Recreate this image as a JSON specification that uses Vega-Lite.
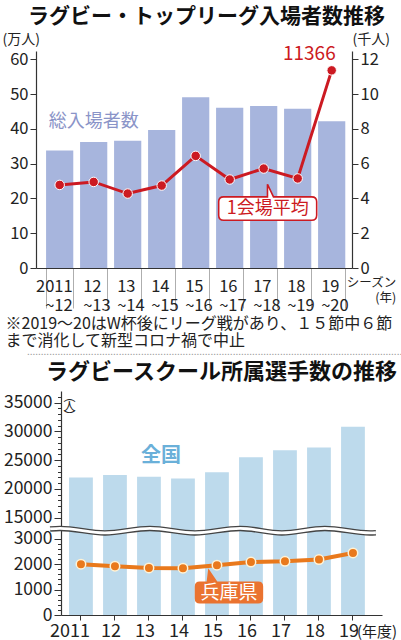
{
  "$schema": "https://vega.github.io/schema/vega-lite/v6.json",
  "background": "white",
  "padding": {"left": 2, "top": 6, "right": 0, "bottom": 0},
  "spacing": -3,
  "config": {
    "font": "Noto Sans CJK JP",
    "view": {"stroke": null},
    "axis": {
      "labelFont": "Noto Sans CJK JP",
      "titleFont": "Noto Sans CJK JP",
      "labelColor": "#222",
      "tickColor": "#333",
      "domainColor": "#333",
      "titleColor": "#222",
      "titleFontWeight": "normal",
      "labelOverlap": false,
      "grid": false
    },
    "title": {"font": "Noto Sans CJK JP", "subtitleFont": "Noto Sans CJK JP"}
  },
  "vconcat": [
    {
      "title": {"text": "ラグビー・トップリーグ入場者数推移", "fontSize": 21, "fontWeight": "bold", "color": "#111", "anchor": "middle", "offset": 5},
      "width": 291,
      "height": 217,
      "data": {
        "values": [
          {"season": 2011, "total": 33.8, "avg": 4778},
          {"season": 2012, "total": 36.2, "avg": 4950},
          {"season": 2013, "total": 36.6, "avg": 4282},
          {"season": 2014, "total": 39.7, "avg": 4742},
          {"season": 2015, "total": 49.1, "avg": 6448},
          {"season": 2016, "total": 46.1, "avg": 5090},
          {"season": 2017, "total": 46.6, "avg": 5720},
          {"season": 2018, "total": 45.8, "avg": 5150},
          {"season": 2019, "total": 42.2, "avg": 11366}
        ]
      },
      "layer": [
        {
          "layer": [
            {
              "mark": {"type": "bar", "color": "#a7b5dd"},
              "encoding": {
                "x": {
                  "field": "season",
                  "type": "ordinal",
                  "scale": {"type": "band", "range": [-25, 291], "paddingInner": 0.2, "paddingOuter": 0.247, "align": 0.6},
                  "axis": {
                    "title": ["※2019～20はW杯後にリーグ戦があり、１５節中６節", "　まで消化して新型コロナ禍で中止"],
                    "titleFontSize": 16,
                    "titleAlign": "left",
                    "titleAnchor": "start",
                    "titleBaseline": "top",
                    "titleX": -56,
                    "titleY": 47,
                    "titleLineHeight": 17.5,
                    "labelAngle": 0,
                    "labelFontSize": 16.5,
                    "labelLineHeight": 19,
                    "labelBaseline": "top",
                    "labelPadding": -30,
                    "labelOverlap": false,
                    "labelExpr": "!isNumber(datum.value) ? '' : datum.value == 2011 ? ['2011', '~12'] : [format(datum.value % 100, 'd'), '~' + format(datum.value % 100 + 1, 'd')]",
                    "labelAlign": {"condition": {"test": "datum.value == 2011", "value": "right"}, "value": "left"},
                    "labelOffset": {"condition": {"test": "datum.value == 2011", "value": 12.5}, "value": -11},
                    "tickBand": "extent",
                    "tickSize": 40,
                    "tickColor": "#999",
                    "tickWidth": 0.8
                  }
                },
                "y": {
                  "field": "total",
                  "type": "quantitative",
                  "scale": {"domain": [0, 62.4], "nice": false},
                  "axis": {
                    "orient": "left",
                    "offset": 25,
                    "values": [0, 10, 20, 30, 40, 50, 60],
                    "tickCount": 50,
                    "labelFontSize": 16.5,
                    "labelPadding": 2,
                    "labelOverlap": false,
                    "tickSize": 6,
                    "domainWidth": 1.2,
                    "title": "(万人)",
                    "titleFontSize": 14,
                    "titleAngle": 0,
                    "titleAlign": "left",
                    "titleBaseline": "middle",
                    "titleX": -34,
                    "titleY": -12
                  }
                }
              }
            },
            {
              "data": {"values": [{"season": 2012, "total": 41.9, "label": "総入場者数"}]},
              "mark": {"type": "text", "fontSize": 18, "color": "#8a94c8", "align": "center", "baseline": "middle"},
              "encoding": {
                "x": {"field": "season", "type": "ordinal"},
                "y": {"field": "total", "type": "quantitative"},
                "text": {"field": "label"}
              }
            }
          ]
        },
        {
          "layer": [
            {
              "mark": {"type": "line", "color": "#cc1a22", "strokeWidth": 3},
              "encoding": {
                "x": {"field": "season", "type": "ordinal"},
                "y": {
                  "field": "avg",
                  "type": "quantitative",
                  "scale": {"domain": [0, 12480], "nice": false},
                  "axis": {
                    "orient": "right",
                    "values": [0, 2000, 4000, 6000, 8000, 10000, 12000],
                    "tickCount": 50,
                    "labelExpr": "format(datum.value / 1000, 'd')",
                    "labelFontSize": 16.5,
                    "labelPadding": 2,
                    "labelOverlap": false,
                    "tickSize": 6,
                    "domainWidth": 1.2,
                    "title": "(千人)",
                    "titleFontSize": 14,
                    "titleAngle": 0,
                    "titleAlign": "left",
                    "titleBaseline": "middle",
                    "titleX": 0,
                    "titleY": -12
                  }
                }
              }
            },
            {
              "mark": {"type": "point", "filled": true, "size": 90, "color": "#cc1a22", "stroke": "white", "strokeWidth": 1, "opacity": 1},
              "encoding": {
                "x": {"field": "season", "type": "ordinal"},
                "y": {"field": "avg", "type": "quantitative"}
              }
            },
            {
              "transform": [{"filter": "datum.season == 2019"}],
              "mark": {"type": "text", "fontSize": 19, "color": "#cc1a22", "align": "right", "baseline": "middle", "dx": 4, "dy": -16},
              "encoding": {
                "x": {"field": "season", "type": "ordinal"},
                "y": {"field": "avg", "type": "quantitative"},
                "text": {"field": "avg", "type": "quantitative", "format": "d"}
              }
            },
            {
              "data": {"values": [{"season": 2017, "avg": 3420, "label": "1会場平均"}]},
              "layer": [
                {
                  "mark": {
                    "type": "point",
                    "filled": true,
                    "size": 10000,
                    "fill": "white",
                    "stroke": "#cc1a22",
                    "strokeWidth": 1.6,
                    "opacity": 1,
                    "shape": "M -0.8 -0.234 L 0.076 -0.234 L 0.076 -0.486 L 0.196 -0.234 L 0.96 -0.234 Q 1.06 -0.234 1.06 -0.134 L 1.06 0.134 Q 1.06 0.234 0.96 0.234 L -0.8 0.234 Q -0.9 0.234 -0.9 0.134 L -0.9 -0.134 Q -0.9 -0.234 -0.8 -0.234 Z"
                  },
                  "encoding": {
                    "x": {"field": "season", "type": "ordinal"},
                    "y": {"field": "avg", "type": "quantitative"}
                  }
                },
                {
                  "mark": {"type": "text", "fontSize": 18, "color": "#cc1a22", "align": "center", "baseline": "middle", "dx": 4},
                  "encoding": {
                    "x": {"field": "season", "type": "ordinal"},
                    "y": {"field": "avg", "type": "quantitative"},
                    "text": {"field": "label"}
                  }
                }
              ]
            },
            {
              "data": {"values": [{"season": 2019, "avg": 0, "label": "シーズン|(年)"}]},
              "mark": {"type": "text", "fontSize": 12.5, "color": "#222", "align": "right", "baseline": "top", "dx": 64.5, "dy": 9, "lineBreak": "|", "lineHeight": 15},
              "encoding": {
                "x": {"field": "season", "type": "ordinal"},
                "y": {"field": "avg", "type": "quantitative"},
                "text": {"field": "label"}
              }
            }
          ]
        }
      ],
      "resolve": {"scale": {"y": "independent"}}
    },
    {
      "title": {
        "text": "............................................................................................................................................",
        "fontSize": 10,
        "fontWeight": "normal",
        "color": "#999",
        "subtitle": "ラグビースクール所属選手数の推移",
        "subtitleFontSize": 22,
        "subtitleFontWeight": "bold",
        "subtitleColor": "#111",
        "subtitlePadding": 5,
        "anchor": "middle",
        "offset": 5
      },
      "width": 321,
      "height": 224,
      "data": {
        "values": [
          {"year": 2011, "total": 22000, "hyogo": 2000},
          {"year": 2012, "total": 22400, "hyogo": 1920},
          {"year": 2013, "total": 22100, "hyogo": 1850},
          {"year": 2014, "total": 21800, "hyogo": 1840},
          {"year": 2015, "total": 22900, "hyogo": 1960},
          {"year": 2016, "total": 25500, "hyogo": 2080},
          {"year": 2017, "total": 26700, "hyogo": 2110},
          {"year": 2018, "total": 27200, "hyogo": 2180},
          {"year": 2019, "total": 30800, "hyogo": 2440}
        ]
      },
      "layer": [
        {
          "layer": [
            {
              "mark": {"type": "bar", "color": "#bddaec"},
              "encoding": {
                "x": {
                  "field": "year",
                  "type": "ordinal",
                  "scale": {"type": "band", "paddingInner": 0.3, "paddingOuter": 0.3705, "align": 0.32},
                  "axis": {
                    "title": null,
                    "labelAngle": 0,
                    "labelFontSize": 18,
                    "labelPadding": 2,
                    "labelBaseline": "top",
                    "labelOverlap": false,
                    "labelExpr": "!isNumber(datum.value) ? '' : datum.value == 2011 ? '2011' : format(datum.value % 100, 'd')",
                    "labelAlign": {"condition": {"test": "datum.value == 2011", "value": "right"}, "value": "center"},
                    "labelOffset": {"condition": {"test": "datum.value == 2011", "value": 9}, "value": -4},
                    "tickSize": 5,
                    "domainWidth": 1.2
                  }
                },
                "y": {
                  "field": "total",
                  "type": "quantitative",
                  "scale": {"domain": [0, 3000, 15000, 37000], "range": [224, 147.7, 126.7, 0], "nice": false, "zero": false},
                  "axis": {
                    "values": [0, 1000, 2000, 3000, 15000, 20000, 25000, 30000, 35000, 200, 400, 600, 800, 1200, 1400, 1600, 1800, 2200, 2400, 2600, 2800, 16000, 17000, 18000, 19000, 21000, 22000, 23000, 24000, 26000, 27000, 28000, 29000, 31000, 32000, 33000, 34000, 36000],
                    "tickCount": 100,
                    "labelExpr": "(datum.value <= 3000 && datum.value % 1000 == 0) || (datum.value >= 14999 && datum.value % 5000 == 0) ? format(datum.value, 'd') : ''",
                    "labelFontSize": 17.5,
                    "labelPadding": 2,
                    "labelOverlap": false,
                    "tickSize": {"condition": {"test": "(datum.value <= 3000 && datum.value % 1000 == 0) || (datum.value >= 14999 && datum.value % 5000 == 0)", "value": 7}, "value": 3.5},
                    "tickWidth": 1,
                    "domainWidth": 1.2,
                    "title": ["︵", "人", "︶"],
                    "titleFontSize": 12,
                    "titleAngle": 0,
                    "titleAlign": "center",
                    "titleBaseline": "top",
                    "titleLineHeight": 10,
                    "titleX": 8,
                    "titleY": 0
                  }
                }
              }
            },
            {
              "data": {"values": [{"year": 2013, "total": 25700, "label": "全国"}]},
              "mark": {"type": "text", "fontSize": 20, "fontWeight": "bold", "color": "#6ab0d9", "align": "center", "baseline": "middle", "dx": 12},
              "encoding": {
                "x": {"field": "year", "type": "ordinal"},
                "y": {"field": "total", "type": "quantitative"},
                "text": {"field": "label"}
              }
            },
            {
              "mark": {"type": "line", "color": "#e9791c", "strokeWidth": 4},
              "encoding": {
                "x": {"field": "year", "type": "ordinal"},
                "y": {"field": "hyogo", "type": "quantitative"}
              }
            },
            {
              "mark": {"type": "point", "filled": true, "size": 90, "color": "#e9791c", "stroke": "#fff3d6", "strokeWidth": 1.5, "opacity": 1},
              "encoding": {
                "x": {"field": "year", "type": "ordinal"},
                "y": {"field": "hyogo", "type": "quantitative"}
              }
            },
            {
              "data": {"values": [{"year": 2015, "total": 880, "label": "兵庫県"}]},
              "layer": [
                {
                  "mark": {
                    "type": "point",
                    "filled": true,
                    "size": 10000,
                    "fill": "#ea7330",
                    "strokeWidth": 0,
                    "opacity": 1,
                    "shape": "M -0.344 -0.22 L -0.206 -0.22 L -0.174 -0.488 L 0.006 -0.22 L 0.824 -0.22 Q 0.924 -0.22 0.924 -0.12 L 0.924 0.12 Q 0.924 0.22 0.824 0.22 L -0.344 0.22 Q -0.444 0.22 -0.444 0.12 L -0.444 -0.12 Q -0.444 -0.22 -0.344 -0.22 Z"
                  },
                  "encoding": {
                    "x": {"field": "year", "type": "ordinal"},
                    "y": {"field": "total", "type": "quantitative"}
                  }
                },
                {
                  "mark": {"type": "text", "fontSize": 19, "color": "white", "align": "center", "baseline": "middle", "dx": 12},
                  "encoding": {
                    "x": {"field": "year", "type": "ordinal"},
                    "y": {"field": "total", "type": "quantitative"},
                    "text": {"field": "label"}
                  }
                }
              ]
            },
            {
              "data": {"values": [{"year": 2019, "total": 0, "label": "(年度)"}]},
              "mark": {"type": "text", "fontSize": 15, "color": "#222", "align": "left", "baseline": "middle", "dx": 4, "dy": 17},
              "encoding": {
                "x": {"field": "year", "type": "ordinal"},
                "y": {"field": "total", "type": "quantitative"},
                "text": {"field": "label"}
              }
            }
          ]
        },
        {
          "data": {
            "values": [
              {"p": -0.034, "total": 8600},
              {"p": -0.003, "total": 8900},
              {"p": 0.137, "total": 6300},
              {"p": 0.277, "total": 8900},
              {"p": 0.417, "total": 6300},
              {"p": 0.558, "total": 8900},
              {"p": 0.688, "total": 6300},
              {"p": 0.822, "total": 8900},
              {"p": 0.963, "total": 6300},
              {"p": 0.981, "total": 6400}
            ]
          },
          "layer": [
            {
              "mark": {"type": "line", "color": "#444", "strokeWidth": 5.5, "interpolate": "monotone"},
              "encoding": {
                "x": {"field": "p", "type": "quantitative", "scale": {"domain": [0, 1], "nice": false, "zero": false}, "axis": null},
                "y": {"field": "total", "type": "quantitative"}
              }
            },
            {
              "mark": {"type": "line", "color": "white", "strokeWidth": 2.8, "interpolate": "monotone"},
              "encoding": {
                "x": {"field": "p", "type": "quantitative"},
                "y": {"field": "total", "type": "quantitative"}
              }
            }
          ]
        }
      ],
      "resolve": {"scale": {"x": "independent"}}
    }
  ]
}
